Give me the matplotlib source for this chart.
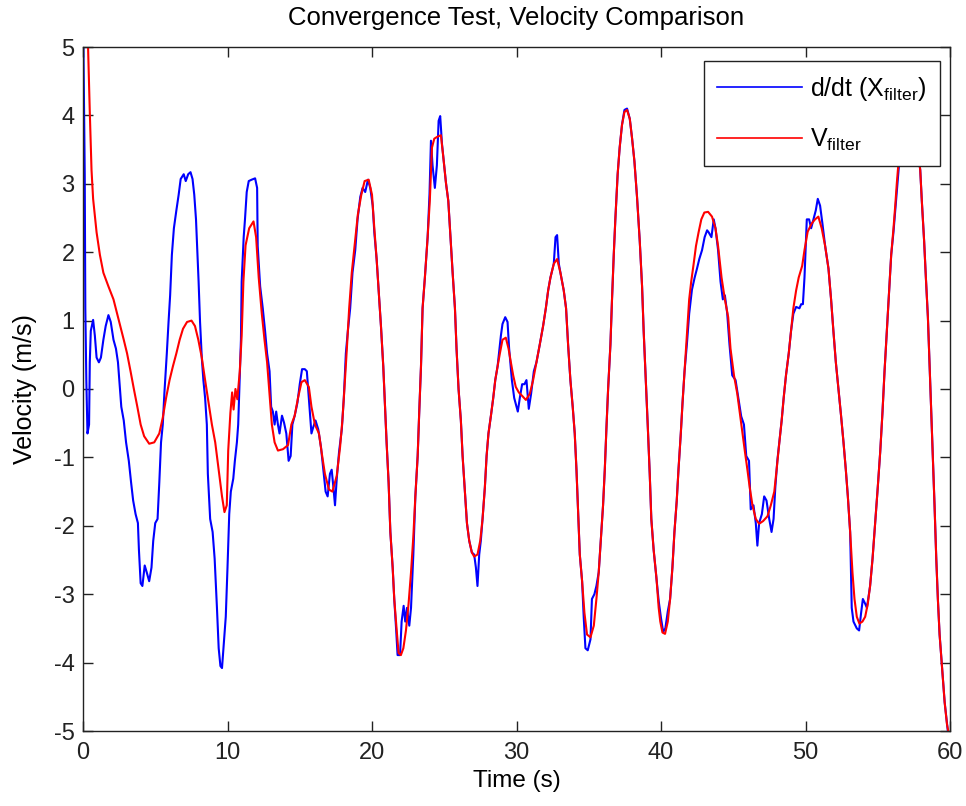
import matplotlib
matplotlib.use("Agg")
import matplotlib.pyplot as plt

plt.rcParams["font.family"] = ["Liberation Sans", "DejaVu Sans"]
plt.rcParams["mathtext.fontset"] = "custom"
plt.rcParams["mathtext.rm"] = "Liberation Sans"
plt.rcParams["mathtext.it"] = "Liberation Sans:italic"
plt.rcParams["axes.unicode_minus"] = False

# Filtered velocity estimate V_filter
t_vfilt = [0.05, 0.35, 0.47, 0.59, 0.70, 0.94, 1.17, 1.41, 1.76, 2.11, 2.35, 2.58, 2.82, 3.05,
           3.29, 3.52, 3.76, 3.99, 4.23, 4.58, 4.93, 5.28, 5.52, 5.75, 5.99, 6.22, 6.46, 6.69,
           6.92, 7.20, 7.51, 7.75, 7.98, 8.22, 8.45, 8.69, 8.92, 9.15, 9.39, 9.62, 9.79, 9.95,
           10.05, 10.20, 10.32, 10.42, 10.55, 10.68, 10.85, 10.98, 11.10, 11.25, 11.50, 11.80,
           11.98, 12.16, 12.37, 12.56, 12.74, 12.91, 13.07, 13.26, 13.49, 13.84, 14.19, 14.42,
           14.65, 14.88, 15.12, 15.35, 15.63, 15.81, 16.05, 16.33, 16.51, 16.74, 17.02, 17.26,
           17.56, 17.79, 17.95, 18.09, 18.26, 18.42, 18.60, 18.79, 19.02, 19.26, 19.49, 19.77,
           20.00, 20.16, 20.32, 20.46, 20.62, 20.78, 20.90, 21.01, 21.15, 21.27, 21.43, 21.54,
           21.71, 21.84, 22.00, 22.17, 22.35, 22.53, 22.70, 22.86, 23.00, 23.16, 23.27, 23.39,
           23.50, 23.66, 23.85, 24.00, 24.15, 24.31, 24.54, 24.77, 24.93, 25.12, 25.28, 25.41,
           25.58, 25.74, 25.85, 25.99, 26.15, 26.27, 26.43, 26.57, 26.73, 26.91, 27.07, 27.30,
           27.49, 27.65, 27.81, 27.93, 28.06, 28.23, 28.39, 28.53, 28.69, 28.85, 29.03, 29.26,
           29.45, 29.61, 29.77, 29.95, 30.16, 30.39, 30.65, 30.92, 31.15, 31.38, 31.61, 31.84,
           32.03, 32.19, 32.35, 32.58, 32.81, 33.04, 33.27, 33.43, 33.57, 33.73, 33.89, 34.03,
           34.15, 34.26, 34.38, 34.54, 34.70, 34.88, 35.12, 35.35, 35.53, 35.69, 35.85, 35.99,
           36.11, 36.22, 36.34, 36.50, 36.61, 36.73, 36.84, 37.00, 37.14, 37.30, 37.47, 37.65,
           37.84, 38.00, 38.16, 38.34, 38.53, 38.69, 38.80, 38.96, 39.08, 39.22, 39.33, 39.49,
           39.68, 39.84, 39.95, 40.10, 40.28, 40.47, 40.63, 40.79, 40.93, 41.09, 41.21, 41.37,
           41.49, 41.63, 41.79, 41.95, 42.09, 42.26, 42.42, 42.60, 42.79, 43.00, 43.26, 43.53,
           43.77, 43.95, 44.19, 44.42, 44.65, 44.81, 45.05, 45.28, 45.44, 45.63, 45.81, 45.98,
           46.14, 46.33, 46.56, 46.79, 47.07, 47.37, 47.60, 47.84, 48.00, 48.19, 48.35, 48.49,
           48.65, 48.84, 49.00, 49.16, 49.35, 49.53, 49.77, 49.93, 50.15, 50.43, 50.66, 50.89,
           51.12, 51.36, 51.59, 51.77, 51.93, 52.10, 52.28, 52.46, 52.63, 52.79, 52.93, 53.09,
           53.25, 53.39, 53.55, 53.73, 53.94, 54.13, 54.31, 54.47, 54.64, 54.82, 55.00, 55.17,
           55.33, 55.47, 55.63, 55.79, 55.93, 56.09, 56.21, 56.32, 56.55, 57.00, 57.50, 57.94,
           58.05, 58.21, 58.33, 58.47, 58.58, 58.70, 58.82, 58.93, 59.05, 59.16, 59.28, 59.44,
           59.63, 59.79, 59.92, 60.00]
v_vfilt = [12.0, 5.00, 4.05, 3.20, 2.78, 2.29, 1.96, 1.70, 1.50, 1.31, 1.11, 0.92, 0.72, 0.52,
           0.26, 0.00, -0.26, -0.52, -0.69, -0.80, -0.78, -0.65, -0.42, -0.13, 0.13, 0.33, 0.52, 0.72,
           0.88, 0.98, 1.00, 0.92, 0.72, 0.46, 0.13, -0.20, -0.52, -0.78, -1.18, -1.57, -1.80, -1.70,
           -0.90, -0.35, -0.05, -0.30, 0.00, -0.15, 0.26, 0.78, 1.57, 2.10, 2.35, 2.45,
           2.22, 1.63, 1.11, 0.72, 0.39, -0.07, -0.52, -0.78, -0.90, -0.88, -0.82, -0.52,
           -0.39, -0.13, 0.10, 0.13, 0.03, -0.26, -0.52, -0.65, -0.92, -1.24, -1.47, -1.50,
           -1.27, -0.85, -0.46, 0.00, 0.59, 1.18, 1.70, 2.09, 2.55, 2.84, 3.04, 3.06,
           2.84, 2.35, 1.90, 1.44, 0.92, 0.33, -0.26, -0.78, -1.37, -2.09, -2.61, -3.07,
           -3.53, -3.86, -3.89, -3.79, -3.53, -3.14, -2.68, -2.16, -1.57, -0.98, -0.33, 0.33,
           1.18, 1.63, 2.22, 2.75, 3.53, 3.66, 3.69, 3.71, 3.40, 3.01, 2.75, 2.29,
           1.70, 1.18, 0.59, 0.00, -0.46, -0.98, -1.50, -1.96, -2.22, -2.39, -2.45, -2.42,
           -2.22, -1.90, -1.44, -0.98, -0.65, -0.39, -0.13, 0.13, 0.33, 0.52, 0.72, 0.75,
           0.59, 0.39, 0.20, 0.03, -0.05, -0.10, -0.16, -0.07, 0.13, 0.39, 0.65, 0.92,
           1.18, 1.44, 1.63, 1.83, 1.90, 1.70, 1.44, 1.18, 0.65, 0.13, -0.26, -0.65,
           -1.18, -1.76, -2.42, -2.81, -3.27, -3.59, -3.63, -3.46, -3.07, -2.68, -2.16, -1.70,
           -1.18, -0.59, 0.00, 0.65, 1.31, 1.96, 2.48, 3.14, 3.53, 3.86, 4.05, 4.08,
           3.95, 3.66, 3.33, 2.81, 2.16, 1.50, 0.85, 0.07, -0.52, -1.24, -1.90, -2.35,
           -2.75, -3.20, -3.40, -3.56, -3.58, -3.40, -3.07, -2.61, -2.09, -1.63, -1.18, -0.65,
           -0.20, 0.26, 0.78, 1.31, 1.57, 1.83, 2.09, 2.29, 2.48, 2.58, 2.59, 2.52,
           2.35, 2.09, 1.63, 1.31, 1.05, 0.59, 0.20, -0.07, -0.33, -0.65, -0.92, -1.18,
           -1.44, -1.70, -1.90, -1.97, -1.93, -1.86, -1.70, -1.50, -1.18, -0.78, -0.46, -0.13,
           0.20, 0.52, 0.85, 1.18, 1.44, 1.63, 1.80, 2.03, 2.30, 2.42, 2.48, 2.52,
           2.35, 2.09, 1.76, 1.31, 0.85, 0.39, 0.00, -0.39, -0.78, -1.18, -1.57, -2.09,
           -2.68, -3.07, -3.33, -3.43, -3.40, -3.33, -3.14, -2.88, -2.48, -1.96, -1.44, -0.92,
           -0.33, 0.26, 0.85, 1.44, 1.96, 2.35, 2.68, 3.01, 3.60, 4.30, 4.00, 3.20,
           2.75, 2.16, 1.63, 1.05, 0.39, -0.33, -1.05, -1.70, -2.48, -3.07, -3.59, -4.05,
           -4.58, -4.90, -5.05, -5.20]

# Numerical derivative of the filtered position, d/dt (X_filter)
t_dxdt = [0.00, 0.12, 0.16, 0.23, 0.31, 0.42, 0.47, 0.54, 0.70, 0.82, 0.94, 1.10, 1.24, 1.41,
          1.57, 1.76, 1.92, 2.11, 2.28, 2.42, 2.51, 2.65, 2.82, 2.98, 3.17, 3.33, 3.47, 3.64,
          3.80, 3.87, 3.99, 4.11, 4.27, 4.41, 4.58, 4.74, 4.86, 5.00, 5.16, 5.28, 5.40, 5.52,
          5.63, 5.80, 5.92, 6.03, 6.15, 6.29, 6.46, 6.62, 6.76, 6.97, 7.11, 7.28, 7.44, 7.58,
          7.70, 7.82, 7.91, 8.00, 8.10, 8.22, 8.33, 8.45, 8.57, 8.64, 8.80, 8.97, 9.11, 9.27,
          9.39, 9.51, 9.62, 9.74, 9.88, 10.00, 10.12, 10.23, 10.40, 10.51, 10.65, 10.74, 10.81,
          10.93, 10.98, 11.12, 11.21, 11.33, 11.47, 11.67, 11.91, 12.05, 12.09, 12.26, 12.44,
          12.60, 12.74, 12.91, 13.02, 13.14, 13.26, 13.37, 13.49, 13.60, 13.77, 13.91, 14.07,
          14.23, 14.37, 14.49, 14.65, 14.84, 15.00, 15.16, 15.35, 15.49, 15.58, 15.70, 15.81,
          15.93, 16.09, 16.28, 16.47, 16.63, 16.79, 16.93, 17.09, 17.21, 17.33, 17.44, 17.56,
          17.72, 17.91, 18.05, 18.19, 18.33, 18.49, 18.65, 18.84, 19.00, 19.19, 19.35, 19.53,
          19.72, 19.88, 20.05, 20.16, 20.32, 20.46, 20.62, 20.78, 20.90, 21.01, 21.15, 21.27,
          21.43, 21.54, 21.68, 21.77, 21.94, 22.05, 22.19, 22.30, 22.42, 22.58, 22.70, 22.86,
          23.00, 23.16, 23.27, 23.39, 23.50, 23.66, 23.85, 23.98, 24.08, 24.19, 24.35, 24.49,
          24.61, 24.72, 24.84, 24.93, 25.12, 25.28, 25.41, 25.58, 25.74, 25.85, 25.99, 26.15,
          26.27, 26.43, 26.57, 26.73, 26.91, 27.07, 27.19, 27.30, 27.42, 27.53, 27.65, 27.81,
          27.93, 28.06, 28.23, 28.39, 28.53, 28.69, 28.92, 29.03, 29.22, 29.38, 29.49, 29.68,
          29.84, 30.00, 30.09, 30.23, 30.39, 30.55, 30.69, 30.85, 31.01, 31.20, 31.38, 31.61,
          31.84, 32.03, 32.19, 32.35, 32.58, 32.70, 32.81, 32.93, 33.04, 33.27, 33.43, 33.57,
          33.73, 33.89, 34.03, 34.15, 34.26, 34.38, 34.54, 34.65, 34.77, 34.93, 35.12, 35.22,
          35.39, 35.53, 35.69, 35.85, 35.99, 36.11, 36.22, 36.34, 36.50, 36.61, 36.73, 36.84,
          37.00, 37.14, 37.30, 37.47, 37.65, 37.84, 38.00, 38.16, 38.34, 38.53, 38.69, 38.80,
          38.96, 39.08, 39.22, 39.33, 39.49, 39.68, 39.84, 40.00, 40.15, 40.30, 40.47, 40.63,
          40.79, 40.93, 41.09, 41.21, 41.37, 41.49, 41.63, 41.79, 41.95, 42.14, 42.33, 42.49,
          42.65, 42.84, 43.02, 43.19, 43.30, 43.49, 43.65, 43.77, 43.95, 44.12, 44.28, 44.42,
          44.58, 44.74, 44.93, 45.16, 45.35, 45.55, 45.74, 45.90, 46.09, 46.21, 46.40, 46.56,
          46.67, 46.79, 46.98, 47.14, 47.30, 47.49, 47.65, 47.79, 47.91, 48.05, 48.19, 48.35,
          48.49, 48.65, 48.84, 49.00, 49.16, 49.35, 49.58, 49.70, 49.82, 49.93, 50.09, 50.25,
          50.39, 50.55, 50.71, 50.85, 51.01, 51.17, 51.36, 51.59, 51.77, 51.93, 52.10, 52.28,
          52.46, 52.63, 52.79, 52.93, 53.09, 53.20, 53.32, 53.55, 53.71, 53.85, 53.97, 54.13,
          54.25, 54.47, 54.64, 54.82, 55.00, 55.17, 55.33, 55.47, 55.63, 55.79, 55.93, 56.09,
          56.21, 56.32, 56.48, 57.00, 57.50, 57.94, 58.05, 58.21, 58.33, 58.47, 58.58, 58.70,
          58.82, 58.93, 59.05, 59.16, 59.28, 59.44, 59.63, 59.85, 60.00]
v_dxdt = [5.60, 3.14, 1.18, 0.13, -0.65, -0.52, 0.39, 0.85, 1.01, 0.78, 0.46, 0.39, 0.46, 0.72,
          0.92, 1.08, 0.98, 0.72, 0.59, 0.39, 0.13, -0.26, -0.46, -0.78, -1.05, -1.37, -1.63, -1.83,
          -1.96, -2.35, -2.84, -2.88, -2.58, -2.68, -2.81, -2.61, -2.22, -1.96, -1.90, -1.37, -0.78, -0.52,
          -0.07, 0.52, 0.98, 1.37, 1.96, 2.35, 2.61, 2.84, 3.07, 3.14, 3.04, 3.14, 3.17, 3.07,
          2.84, 2.48, 2.03, 1.57, 0.98, 0.46, 0.13, -0.13, -0.52, -1.24, -1.90, -2.09, -2.48, -3.20,
          -3.79, -4.05, -4.08, -3.73, -3.33, -2.61, -1.83, -1.50, -1.31, -1.05, -0.78, -0.52, -0.07,
          0.72, 1.57, 2.22, 2.48, 2.88, 3.04, 3.06, 3.08, 2.94, 2.09, 1.50, 1.18,
          0.85, 0.52, 0.26, -0.26, -0.33, -0.52, -0.33, -0.52, -0.65, -0.39, -0.49, -0.65,
          -1.05, -0.98, -0.52, -0.39, -0.20, 0.07, 0.29, 0.29, 0.26, 0.00, -0.33, -0.65,
          -0.56, -0.46, -0.59, -0.85, -1.18, -1.50, -1.57, -1.24, -1.18, -1.44, -1.70, -1.31,
          -0.92, -0.59, -0.13, 0.52, 0.85, 1.18, 1.70, 2.03, 2.48, 2.81, 2.94, 2.88,
          3.06, 2.94, 2.68, 2.29, 1.90, 1.44, 0.92, 0.33, -0.26, -0.78, -1.37, -2.09,
          -2.61, -3.07, -3.55, -3.89, -3.89, -3.40, -3.17, -3.40, -3.20, -3.46, -3.20, -2.42,
          -1.57, -0.98, -0.33, 0.33, 1.18, 1.63, 2.22, 2.85, 3.63, 3.27, 2.94, 3.27,
          3.92, 3.99, 3.59, 3.40, 3.01, 2.75, 2.29, 1.70, 1.18, 0.59, 0.00, -0.46,
          -0.98, -1.50, -1.96, -2.22, -2.39, -2.42, -2.61, -2.88, -2.42, -2.22, -1.90, -1.44,
          -0.98, -0.65, -0.39, -0.13, 0.13, 0.33, 0.78, 0.95, 1.05, 0.98, 0.59, 0.13,
          -0.13, -0.26, -0.33, -0.13, 0.07, 0.07, 0.13, -0.29, -0.07, 0.26, 0.39, 0.65,
          0.92, 1.18, 1.44, 1.63, 1.83, 2.22, 2.25, 1.83, 1.70, 1.44, 1.18, 0.65,
          0.13, -0.26, -0.65, -1.18, -1.76, -2.42, -2.81, -3.33, -3.79, -3.82, -3.66, -3.07,
          -3.00, -2.88, -2.68, -2.16, -1.70, -1.18, -0.59, 0.00, 0.65, 1.31, 1.96, 2.48,
          3.14, 3.53, 3.86, 4.08, 4.10, 3.95, 3.66, 3.33, 2.81, 2.16, 1.50, 0.85,
          0.07, -0.52, -1.24, -1.90, -2.35, -2.75, -3.10, -3.35, -3.55, -3.50, -3.25, -3.07,
          -2.61, -2.09, -1.63, -1.18, -0.65, -0.20, 0.26, 0.65, 1.10, 1.45, 1.63, 1.76,
          1.90, 2.03, 2.22, 2.32, 2.29, 2.22, 2.48, 2.35, 2.03, 1.57, 1.31, 1.37,
          1.11, 0.65, 0.20, 0.13, -0.13, -0.40, -0.52, -0.98, -1.05, -1.76, -1.70, -1.96,
          -2.29, -1.96, -1.83, -1.57, -1.63, -1.90, -2.09, -1.90, -1.44, -1.05, -0.78, -0.46,
          -0.13, 0.20, 0.52, 0.85, 1.10, 1.20, 1.18, 1.24, 1.24, 1.63, 2.48, 2.48,
          2.35, 2.48, 2.61, 2.78, 2.68, 2.42, 2.09, 1.76, 1.31, 0.85, 0.39, 0.00,
          -0.39, -0.78, -1.18, -1.57, -2.09, -3.20, -3.40, -3.50, -3.53, -3.27, -3.07, -3.14,
          -3.20, -2.88, -2.48, -1.96, -1.44, -0.92, -0.33, 0.26, 0.85, 1.44, 1.96, 2.30,
          2.61, 2.88, 3.30, 4.20, 4.00, 3.20, 2.75, 2.16, 1.63, 1.05, 0.39, -0.33,
          -1.05, -1.70, -2.48, -3.07, -3.59, -4.05, -4.58, -5.00, -5.40]

x_ticks = [0, 10, 20, 30, 40, 50, 60]
y_ticks = [-5, -4, -3, -2, -1, 0, 1, 2, 3, 4, 5]

fig = plt.figure(figsize=(9.66, 8.06), dpi=100, facecolor="white")
ax = fig.add_axes([83 / 966, 1 - 731 / 806, 867 / 966, 684 / 806])

ax.plot(t_dxdt, v_dxdt, color="#0000ff", lw=1.5, label=r"d/dt (X$_{\mathrm{filter}}$)")
ax.plot(t_vfilt, v_vfilt, color="#ff0000", lw=1.5, label=r"V$_{\mathrm{filter}}$")

ax.set_xlim(0, 60)
ax.set_ylim(-5, 5)
ax.set_xticks(x_ticks)
ax.set_yticks(y_ticks)
ax.tick_params(direction="in", length=7, width=1.0, top=True, right=True,
               labelsize=17, colors="#222222")
ax.tick_params(axis="x", pad=8)
ax.tick_params(axis="y", pad=6)
for sp in ax.spines.values():
    sp.set_linewidth(1.0)
    sp.set_color("#222222")

ax.set_title("Convergence Test, Velocity Comparison", fontsize=18.5, y=1.0, pad=16)
ax.set_xlabel("Time (s)", fontsize=17.5, labelpad=4)
ax.set_ylabel("Velocity (m/s)", fontsize=18, labelpad=12)

leg = ax.legend(loc="upper right", bbox_to_anchor=(0.9885, 0.9795), fontsize=18,
                fancybox=False, framealpha=1.0, edgecolor="#222222",
                handlelength=3.4, handletextpad=0.3, borderaxespad=0.0,
                borderpad=0.55, labelspacing=0.95)
leg.get_frame().set_linewidth(1.0)
for line in leg.get_lines():
    line.set_linewidth(1.2)

fig.savefig("out.png", dpi=100, facecolor="white")
